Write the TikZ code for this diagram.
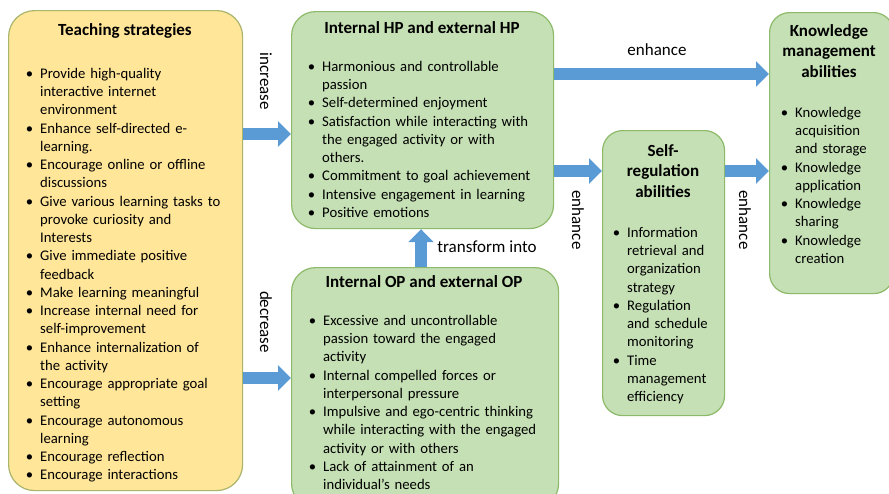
\documentclass[tikz,border=0pt]{standalone}
\usepackage{fontspec}
\setmainfont{Carlito}
\usepackage{enumitem}
\usetikzlibrary{arrows.meta,positioning}

\definecolor{stratyellow}{HTML}{FFE699}
\definecolor{stratborder}{HTML}{A9B56B}
\definecolor{passgreen}{HTML}{C5E0B4}
\definecolor{passborder}{HTML}{8DBA6A}
\definecolor{flowblue}{HTML}{5B9BD5}

\setlist[itemize]{label=\textbullet, leftmargin=12pt, labelsep=7pt,
  itemsep=0pt, topsep=0pt, parsep=0pt, partopsep=0pt}

\begin{document}
\begin{tikzpicture}[
      x=1pt, y=-1pt, % one unit = one pixel of the sketch
      box/.style = {draw, line width=1.2pt, anchor=north west, inner sep=0pt},
      stratbox/.style = {box, fill=stratyellow, draw=stratborder, rounded corners=26pt},
      passbox/.style = {box, fill=passgreen, draw=passborder, rounded corners=24pt},
      abilbox/.style = {box, fill=passgreen, draw=passborder, rounded corners=20pt},
      boxtitle/.style = {font=\fontsize{17}{20.5}\selectfont\bfseries, align=center, inner sep=0pt},
      bullets/.style = {font=\fontsize{14.7}{18.25}\selectfont, align=left,
        anchor=north west, inner sep=0pt, text width=#1},
      flow/.style = {draw=flowblue, line width=12pt, -{Triangle[length=13pt,width=25pt]}},
      flowlabel/.style = {font=\fontsize{17}{18}\selectfont, inner sep=0pt}
  ]
\useasboundingbox (0,0) rectangle (889,493);

% the five boxes
\node[stratbox, minimum width=234pt, minimum height=480pt] (teach) at (8,10) {};
\node[passbox, minimum width=262pt, minimum height=217pt] (hp) at (291,11) {};
\node[passbox, minimum width=267pt, minimum height=240pt] (op) at (291,267) {};
\node[abilbox, minimum width=122pt, minimum height=285pt] (sr) at (602,130) {};
\node[abilbox, minimum width=124pt, minimum height=281pt] (km) at (769,12) {};

% titles
\node[boxtitle] (teachtitle) at (125,31) {Teaching strategies};
\node[boxtitle] (hptitle) at (422,28) {Internal HP and external HP};
\node[boxtitle] (optitle) at (424,282) {Internal OP and external OP};
\node[boxtitle] (srtitle) at (663,171) {Self-\\regulation\\abilities};
\node[boxtitle] (kmtitle) at (829,51) {Knowledge\\management\\abilities};

% bullet lists
\node[bullets=210pt] (teachlist) at (28,60) {%
\begin{itemize}
  \item Provide high-quality\\ interactive internet\\ environment
  \item Enhance self-directed e-\\ learning.
  \item Encourage online or offline\\ discussions
  \item Give various learning tasks to\\ provoke curiosity and\\ Interests
  \item Give immediate positive\\ feedback
  \item Make learning meaningful
  \item Increase internal need for\\ self-improvement
  \item Enhance internalization of\\ the activity
  \item Encourage appropriate goal\\ setting
  \item Encourage autonomous\\ learning
  \item Encourage reflection
  \item Encourage interactions
\end{itemize}};

\node[bullets=240pt] (hplist) at (310,53) {%
\begin{itemize}
  \item Harmonious and controllable\\ passion
  \item Self-determined enjoyment
  \item Satisfaction while interacting with\\ the engaged activity or with\\ others.
  \item Commitment to goal achievement
  \item Intensive engagement in learning
  \item Positive emotions
\end{itemize}};

\node[bullets=245pt] (oplist) at (311,307) {%
\begin{itemize}
  \item Excessive and uncontrollable\\ passion toward the engaged\\ activity
  \item Internal compelled forces or\\ interpersonal pressure
  \item Impulsive and ego-centric thinking\\ while interacting with the engaged\\ activity or with others
  \item Lack of attainment of an\\ individual’s needs
\end{itemize}};

\node[bullets=105pt] (srlist) at (615,219) {%
\begin{itemize}
  \item Information\\ retrieval and\\ organization\\ strategy
  \item Regulation\\ and schedule\\ monitoring
  \item Time\\ management\\ efficiency
\end{itemize}};

\node[bullets=100pt] (kmlist) at (783,99) {%
\begin{itemize}
  \item Knowledge\\ acquisition\\ and storage
  \item Knowledge\\ application
  \item Knowledge\\ sharing
  \item Knowledge\\ creation
\end{itemize}};

% block arrows
\draw[flow] (teach.east |- 0,134) -- (hp.west |- 0,134);
\draw[flow] (teach.east |- 0,378) -- (op.west |- 0,378);
\draw[flow] (op.north -| 421,0) -- (hp.south -| 421,0);
\draw[flow] (hp.east |- 0,74) -- (km.west |- 0,74);
\draw[flow] (hp.east |- 0,171) -- (sr.west |- 0,171);
\draw[flow] (sr.east |- 0,171) -- (km.west |- 0,171);

% arrow labels
\node[flowlabel, rotate=-90] (incl) at (266,81) {increase};
\node[flowlabel, rotate=-90] (decl) at (266,322) {decrease};
\node[flowlabel] (transl) at (487,247) {transform into};
\node[flowlabel] (enhl) at (657,50) {enhance};
\node[flowlabel, rotate=-90] (enhsrl) at (578,220) {enhance};
\node[flowlabel, rotate=-90] (enhkml) at (745,220) {enhance};

\end{tikzpicture}
\end{document}
